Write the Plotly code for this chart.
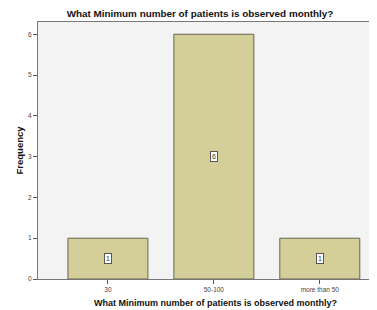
import plotly.graph_objects as go

categories = ["30", "50-100", "more than 50"]
frequencies = [1, 6, 1]
y_ticks = [0, 1, 2, 3, 4, 5, 6]

# The page body adds an 8px offset; the figure is sized to fill the rest.
W, H = 369, 302
L, T, B = 30, 14, 271  # plot-area edges in figure pixels

fig = go.Figure()
fig.add_trace(go.Bar(
    x=categories, y=frequencies,
    marker=dict(color="#d4cf98", line=dict(color="#66654f", width=1)),
    width=0.755, showlegend=False, hoverinfo="skip",
))

for i, v in enumerate(frequencies):
    fig.add_annotation(
        x=i, y=v / 2, text=str(v), showarrow=False,
        font=dict(family="Liberation Sans, Arial", size=7, color="#333"),
        bgcolor="white", bordercolor="#555", borderwidth=1, borderpad=1,
    )

title_text = "<b>What Minimum number of patients is observed monthly?</b>"

fig.add_annotation(
    text=title_text, xref="paper", yref="paper", showarrow=False,
    x=(207 - L) / (W - L), y=-(295 - B) / (B - T),
    xanchor="center", yanchor="middle",
    font=dict(family="Liberation Sans, Arial", size=9, color="#111"),
)
fig.add_annotation(
    text="<b>Frequency</b>", xref="paper", yref="paper", showarrow=False,
    x=-(L - 10.5) / (W - L), y=(B - 142) / (B - T), textangle=-90,
    xanchor="center", yanchor="middle",
    font=dict(family="Liberation Sans, Arial", size=9.5, color="#111"),
)

fig.update_layout(
    width=W, height=H,
    margin=dict(l=L, r=0, t=T, b=H - B, autoexpand=False),
    paper_bgcolor="white", plot_bgcolor="#f3f3f3",
    title=dict(text=title_text,
               x=192 / W, xanchor="center", y=1 - 5.5 / H, yanchor="middle",
               font=dict(family="Liberation Sans, Arial", size=9.9, color="#111")),
    font=dict(family="Liberation Sans, Arial"),
)
fig.update_xaxes(
    type="category", range=[-0.66, 2.54], automargin=False,
    showline=True, linecolor="#777", linewidth=1, mirror=True,
    ticks="outside", ticklen=4, tickcolor="#555",
    tickfont=dict(size=6.5, color="#444"),
    showgrid=False,
)
fig.update_yaxes(
    range=[0, 6.3], tickvals=y_ticks, automargin=False,
    showline=True, linecolor="#777", linewidth=1,
    ticks="outside", ticklen=4, tickcolor="#555",
    tickfont=dict(size=6.5, color="#444"),
    showgrid=False, zeroline=False,
)

fig.write_html("out.html")
